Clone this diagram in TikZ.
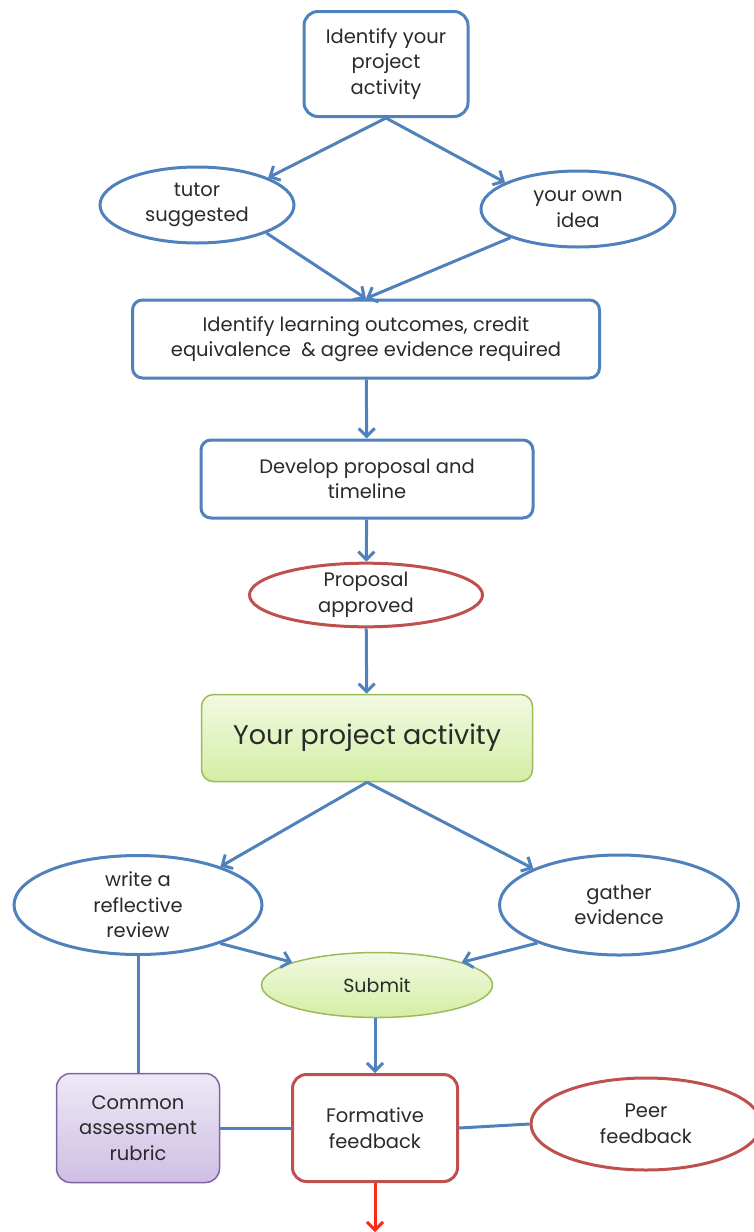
\documentclass[tikz,border=0pt]{standalone}
\usepackage{fontspec}
\setmainfont{Poppins}
\usetikzlibrary{shapes.geometric,arrows.meta}
\definecolor{lineblue}{HTML}{4F81BD}
\definecolor{boxred}{HTML}{C0504D}
\definecolor{greenedge}{HTML}{9BBB59}
\definecolor{greentop}{HTML}{F2F9E3}
\definecolor{greenbot}{HTML}{D4EEA4}
\definecolor{purpleedge}{HTML}{8064A2}
\definecolor{purpletop}{HTML}{EEE8F5}
\definecolor{purplebot}{HTML}{CEBFE4}
\definecolor{textgrey}{HTML}{2A2A2A}
\definecolor{arrowred}{HTML}{FF2A12}
\tikzset{
  box/.style={draw=lineblue, line width=3pt, rounded corners=14pt, align=center, fill=white},
  oval/.style={draw=lineblue, line width=3pt, ellipse, align=center, inner sep=0pt, fill=white},
  link/.style={lineblue, line width=3pt},
  flow/.style={link, -{Straight Barb[length=8pt,width=16pt,line width=3pt]}},
  txt/.style={font=\fontsize{19.5}{25.5}\selectfont, text=textgrey},
  greenfill/.style={draw=greenedge, line width=1.5pt, top color=greentop, bottom color=greenbot}
}
\begin{document}
\begin{tikzpicture}[x=1pt,y=-1pt]
\useasboundingbox (0,0) rectangle (754,1232);
% top part
\node[box, txt, minimum width=164pt, minimum height=105pt] (identify) at (386,64) {Identify your\\project\\activity};
\node[oval, txt, minimum width=194pt, minimum height=76pt] (tutor) at (197,205) {tutor\\suggested};
\node[oval, txt, minimum width=194pt, minimum height=76pt] (ownidea) at (578,209) {your own\\idea};
\node[box, txt, minimum width=467pt, minimum height=78pt, rounded corners=10pt] (outcomes) at (366,339) {Identify learning outcomes, credit\\equivalence \ \& agree evidence required};
\node[box, txt, minimum width=332pt, minimum height=78pt, rounded corners=10pt] (develop) at (367,479) {Develop proposal and\\timeline};
\node[oval, txt, draw=boxred, minimum width=233pt, minimum height=62pt] (approved) at (366,595) {Proposal\\approved};
% middle
\node[box, greenfill, text=textgrey, minimum width=331pt, minimum height=87pt, rounded corners=12pt, font=\fontsize{27}{32}\selectfont] (activity) at (367,738) {Your project activity};
\node[oval, txt, minimum width=248pt, minimum height=99pt] (reflect) at (138,905) {write a\\reflective\\review};
\node[oval, txt, minimum width=239pt, minimum height=100pt] (gather) at (619,905) {gather\\evidence};
\node[oval, greenfill, text=textgrey, minimum width=231pt, minimum height=65pt, font=\fontsize{19}{22}\selectfont] (submit) at (377,985) {Submit};
% bottom
\node[box, txt, draw=purpleedge, line width=1.5pt, top color=purpletop, bottom color=purplebot, minimum width=163pt, minimum height=109pt] (rubric) at (138,1128) {Common\\assessment\\rubric};
\node[box, txt, draw=boxred, minimum width=165pt, minimum height=107pt] (formative) at (375,1128) {Formative\\feedback};
\node[oval, txt, draw=boxred, minimum width=230pt, minimum height=92pt] (peer) at (646,1124) {Peer\\feedback};
\coordinate (onward) at (375,1232);

\draw[flow] (identify.south) -- (tutor.21);
\draw[flow] (identify.south) -- (ownidea.160);
\draw[flow] (tutor.-22) -- (outcomes.north);
\draw[flow] (ownidea.-157) -- (outcomes.north);
\draw[flow] (outcomes) -- (develop);
\draw[flow] (develop) -- (approved);
\draw[flow] (approved) -- (activity);
\draw[flow] (activity.south) -- (reflect.25);
\draw[flow] (activity.south) -- (gather.157);
\draw[flow] (reflect.-25) -- (submit.165);
\draw[flow] (gather.-155) -- (submit.15);
\draw[flow] (submit.south -| formative.north) -- (formative.north);
\draw[link] (reflect) -- (rubric);
\draw[link] (rubric) -- (formative);
\draw[link] (formative.east) -- (peer.west);
\draw[line width=3pt, arrowred, -{Straight Barb[length=8pt,width=16pt,line width=3pt]}] (formative) -- (onward);
\end{tikzpicture}
\end{document}
